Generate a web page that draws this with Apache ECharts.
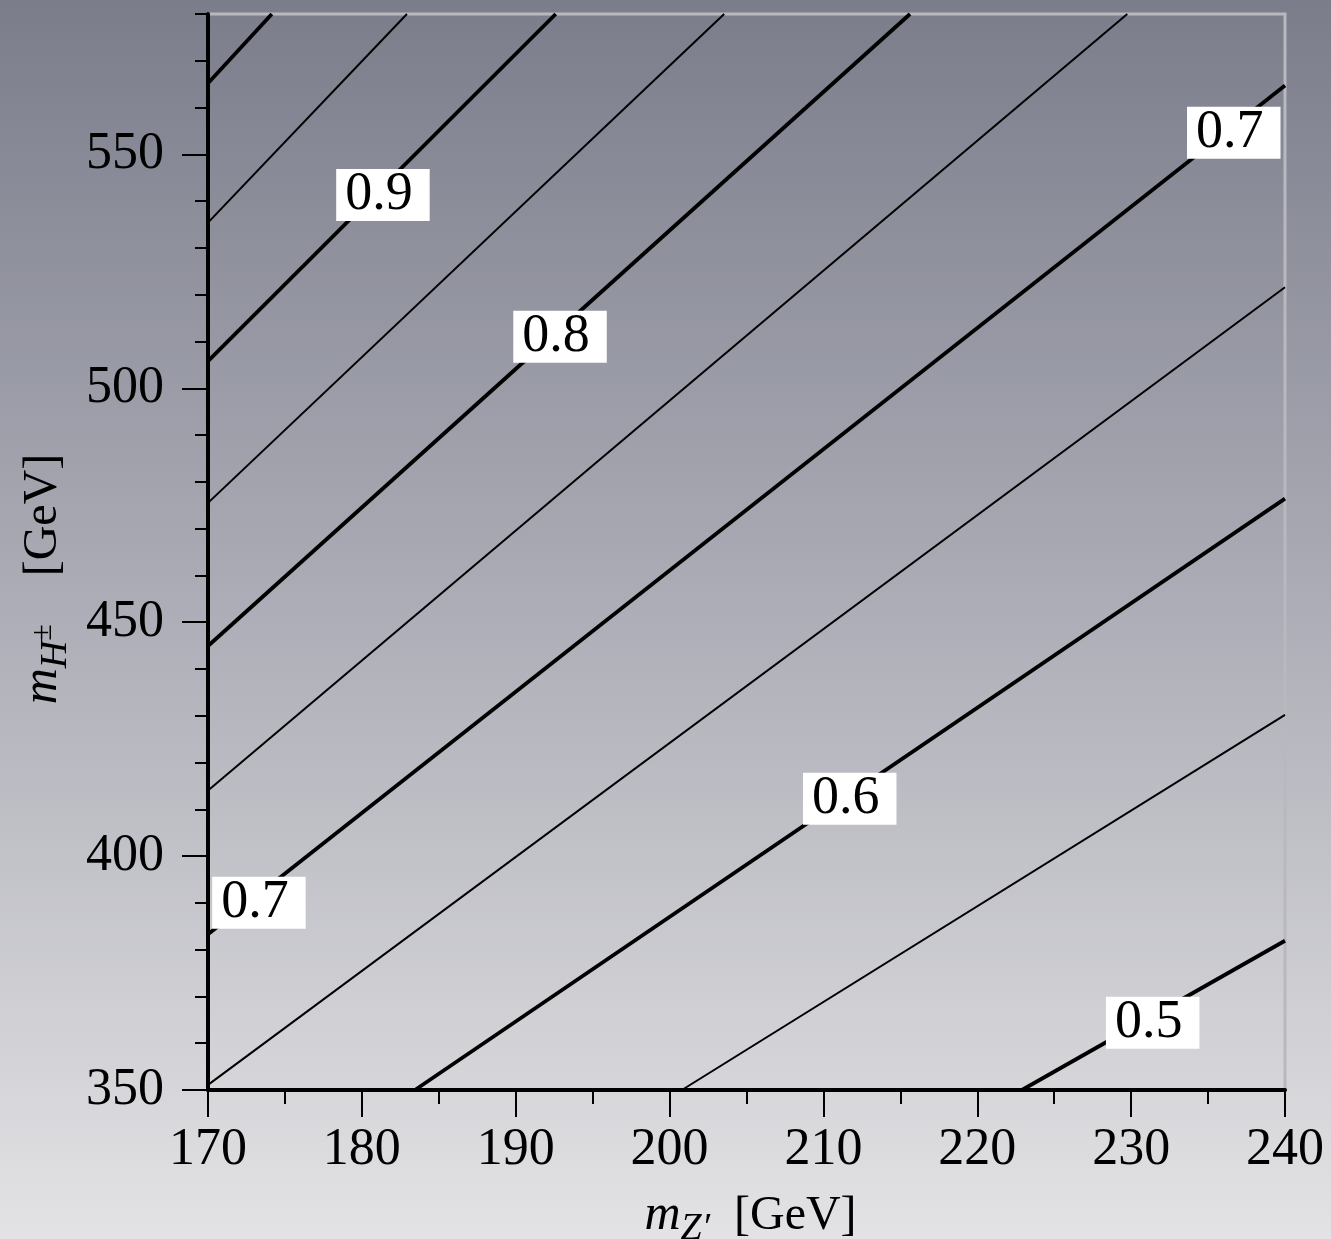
<!DOCTYPE html>
<html>
<head>
<meta charset="utf-8">
<title>Contours in the m_Z' – m_H± plane</title>
<script src="https://cdn.jsdelivr.net/npm/echarts@6/dist/echarts.min.js"></script>
<style>
  html, body { margin: 0; padding: 0; }
  #chart { width: 1331px; height: 1239px; }
</style>
</head>
<body>
<div id="chart"></div>
<script>
// Contour levels, each drawn as a straight segment between two boundary points
const levels = [1.0, 0.95, 0.9, 0.85, 0.8, 0.75, 0.7, 0.65, 0.6, 0.55, 0.5];
const startMZ = [170, 170, 170, 170, 170, 170, 170, 170, 183.45, 200.8, 222.9];
const startMH = [565.2, 535.4, 505.8, 475.5, 444.9, 414.0, 383.3, 351.1, 350, 350, 350];
const endMZ   = [174.15, 182.93, 192.6, 203.55, 215.63, 229.75, 240, 240, 240, 240, 240];
const endMH   = [580, 580, 580, 580, 580, 580, 564.7, 521.6, 476.4, 430.2, 381.9];

// Inline contour labels: level and placement in (m_Z', m_H±)
const labelLevel = [0.9, 0.8, 0.7, 0.7, 0.6, 0.5];
const labelMZ    = [181.37, 192.88, 236.67, 173.31, 211.71, 231.40];
const labelMH    = [541.3, 511.0, 554.6, 390.0, 412.25, 364.4];

// Tick values
const xTicks = [170, 180, 190, 200, 210, 220, 230, 240];
const yTicks = [350, 400, 450, 500, 550];

const FONT = 'Liberation Serif';

const contourSeries = levels.map((lv, i) => {
  const major = Math.abs(Math.round(lv * 10) - lv * 10) < 1e-6;
  return {
    type: 'line',
    name: 'c' + lv,
    xAxisIndex: 0,
    yAxisIndex: 0,
    data: [[startMZ[i], startMH[i]], [endMZ[i], endMH[i]]],
    symbol: 'none',
    silent: true,
    animation: false,
    clip: true,
    z: 3,
    lineStyle: { color: '#000', width: major ? 3.8 : 2, cap: 'butt' }
  };
});

const labelSeries = {
  type: 'scatter',
  xAxisIndex: 0,
  yAxisIndex: 0,
  symbolSize: 1,
  silent: true,
  animation: false,
  z: 10,
  itemStyle: { color: 'rgba(0,0,0,0)', opacity: 1 },
  data: labelLevel.map((lv, i) => [labelMZ[i], labelMH[i], lv]),
  label: {
    show: true,
    position: 'inside',
    formatter: p => p.value[2].toFixed(1),
    fontFamily: FONT,
    fontSize: 54,
    color: '#000',
    opacity: 1,
    backgroundColor: '#ffffff',
    lineHeight: 40,
    padding: [2, 17, 10, 9]
  }
};

const titleRich = {
  i:   { fontFamily: FONT, fontStyle: 'italic', fontSize: 50, color: '#000', lineHeight: 64, verticalAlign: 'middle' },
  sub: { fontFamily: FONT, fontStyle: 'italic', fontSize: 38, color: '#000', lineHeight: 40, verticalAlign: 'bottom' },
  sup: { fontFamily: FONT, fontSize: 30, color: '#000', lineHeight: 40, verticalAlign: 'middle' },
  r:   { fontFamily: FONT, fontSize: 48, color: '#000', lineHeight: 64, verticalAlign: 'middle' }
};

const chart = echarts.init(document.getElementById('chart'), null, { renderer: 'canvas' });

chart.setOption({
  animation: false,
  backgroundColor: {
    type: 'linear', x: 0, y: 0, x2: 0, y2: 1,
    colorStops: [
      { offset: 0, color: '#7b7d8b' },
      { offset: 0.5, color: '#adaeb7' },
      { offset: 1, color: '#e3e3e5' }
    ]
  },
  grid: {
    left: 208, right: 46, top: 14, bottom: 149,
    outerBoundsMode: 'none',
    containLabel: false,
    show: true,
    backgroundColor: 'transparent',
    borderColor: '#b8b8bd',
    borderWidth: 3
  },
  xAxis: {
    type: 'value',
    min: 170, max: 240, interval: 10,
    name: '{i|m}{sub|Z′}{r|  [GeV]}',
    nameLocation: 'middle',
    nameGap: 94,
    nameTextStyle: { rich: titleRich, padding: [0, 0, 0, 8] },
    axisLine: { show: true, onZero: false, lineStyle: { color: '#000', width: 4 } },
    axisTick: { show: true, inside: false, length: 27, lineStyle: { color: '#000', width: 2 } },
    minorTick: { show: true, splitNumber: 2, length: 14, lineStyle: { color: '#000', width: 2 } },
    axisLabel: { show: true, customValues: xTicks, margin: 34, fontFamily: FONT, fontSize: 52, color: '#000' },
    splitLine: { show: false },
    minorSplitLine: { show: false }
  },
  yAxis: [
    {
      type: 'value',
      min: 350, max: 580, interval: 50,
      position: 'left',
      name: '{i|m}{sub|H}{sup|±}{r|    [GeV]}',
      nameLocation: 'middle',
      nameRotate: 90,
      nameGap: 131,
      nameTextStyle: {
        padding: [0, 54, 0, 0],
        rich: titleRich
      },
      axisLine: { show: true, onZero: false, lineStyle: { color: '#000', width: 4 } },
      axisTick: { show: true, inside: false, customValues: yTicks, length: 26, lineStyle: { color: '#000', width: 2 } },
      axisLabel: { show: true, customValues: yTicks, margin: 44, fontFamily: FONT, fontSize: 52, color: '#000', padding: [0, 0, 8, 0] },
      splitLine: { show: false }
    },
    {
      // minor ticks every 10 GeV
      type: 'value',
      min: 350, max: 580, interval: 10,
      position: 'left',
      offset: 0,
      axisLine: { show: false },
      axisTick: { show: true, inside: false, length: 13, lineStyle: { color: '#000', width: 2 } },
      axisLabel: { show: false },
      splitLine: { show: false }
    }
  ],
  series: [...contourSeries, labelSeries]
});
</script>
</body>
</html>
